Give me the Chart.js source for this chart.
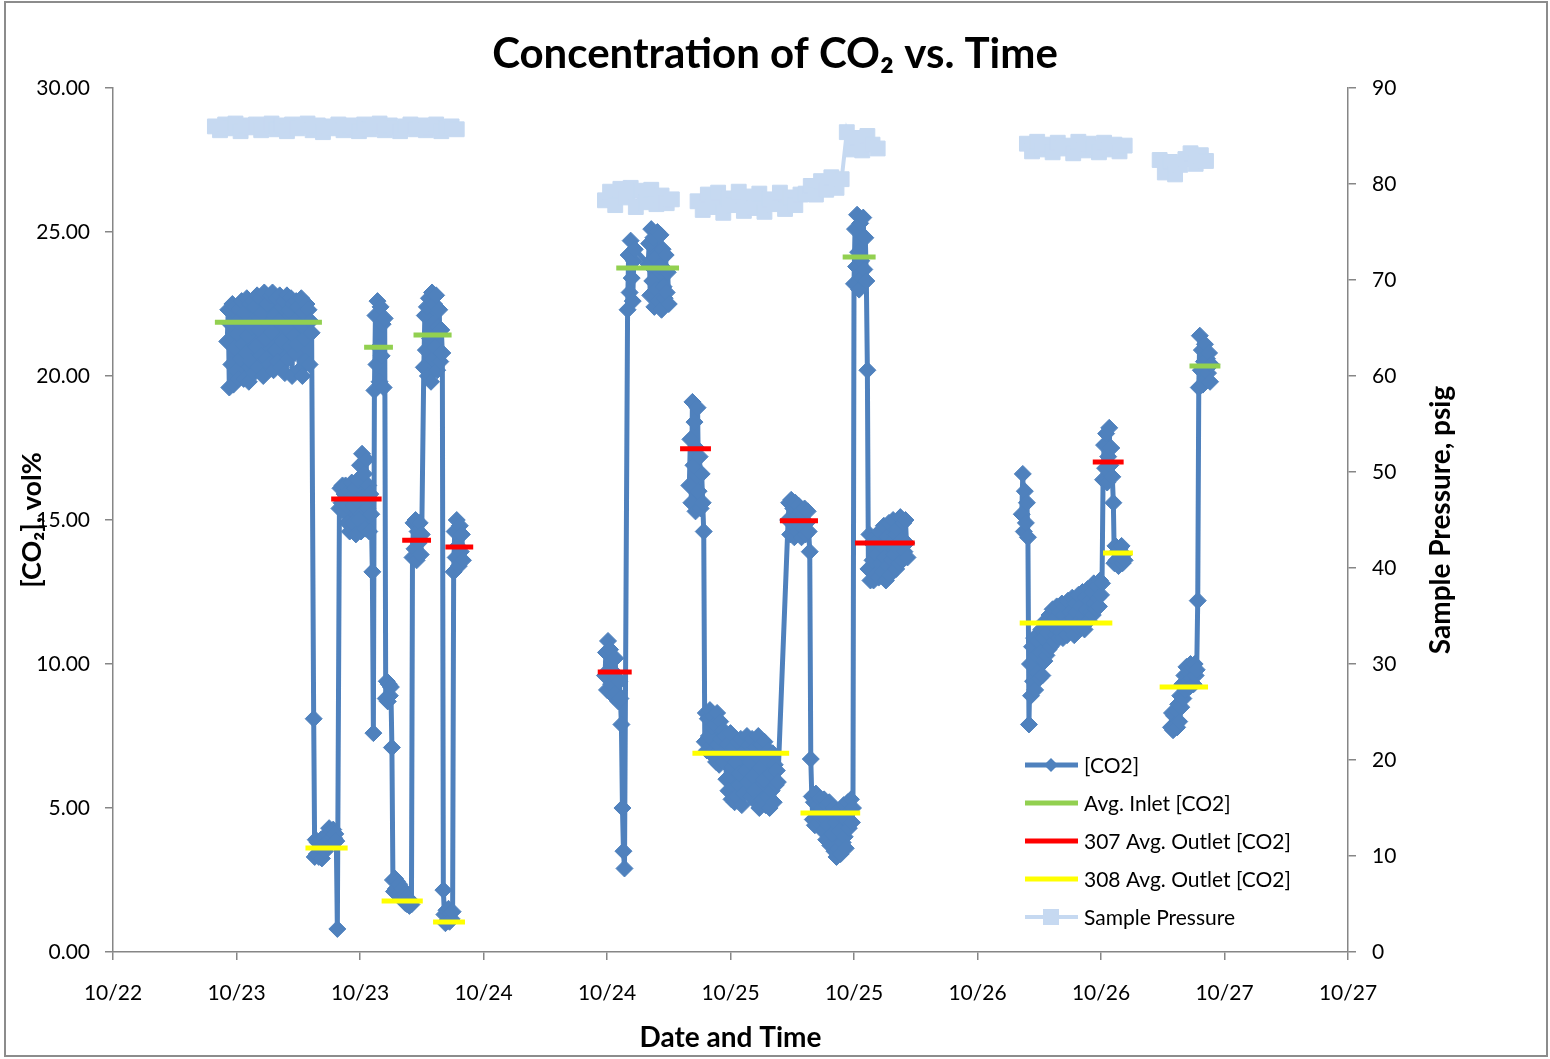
<!DOCTYPE html>
<html>
<head>
<meta charset="utf-8">
<title>Concentration of CO2 vs. Time</title>
<script src="https://cdn.jsdelivr.net/npm/chart.js@4.4.1/dist/chart.umd.min.js"></script>
<style>
  html, body { margin: 0; padding: 0; background: #fff; }
</style>
</head>
<body>
<canvas id="co2Chart" width="1550" height="1059"></canvas>
<script>
// x is hours from 10/22 12:00
var xTickLabels = ["10/22", "10/23", "10/23", "10/24", "10/24", "10/25", "10/25", "10/26", "10/26", "10/27", "10/27"];
var logGaps = [40, 55.5, 82, 100]; // logging stopped

// [CO2] readings, logged every 0.1 h
var co2Step = 0.1;
var co2RunStart = [11.1, 19.5, 22.0, 25.4, 26.5, 29.1, 30.2, 32.1, 33.1,
  47.8, 50.0, 52.0, 56.0, 57.5, 65.6, 67.9, 72.0, 73.4,
  88.3, 89.1, 96.2, 97.3, 102.8, 105.5];
var co2Runs = [
  [21.2, 22.3, 19.6, 21.8, 20.4, 22.5, 19.7, 21.0, 22.4, 20.2, 21.9, 19.9, 22.3,
   20.6, 22.6, 21.1, 19.9, 22.2, 20.8, 22.7, 21.4, 19.8, 22.5, 20.5, 21.7, 22.6, 20.1,
   22.4, 21.0, 22.8, 20.3, 21.6, 22.7, 20.7, 22.2, 20.0, 22.9, 21.3, 20.6, 22.5, 21.8,
   20.4, 22.8, 21.5, 22.9, 20.2, 22.1, 20.9, 22.7, 20.5, 21.9, 22.8, 20.3, 22.4, 21.2,
   22.6, 20.1, 21.7, 22.8, 20.6, 22.3, 21.0, 22.7, 20.0, 22.5, 21.4, 20.8, 22.6, 21.1,
   22.4, 20.2, 21.8, 22.7, 20.0, 22.2, 21.3, 20.5, 22.5, 21.6, 22.3, 20.4, 21.9, 21.5],
  [8.1, 3.3, 3.9, 3.4, 3.8, 3.3, 3.6, 3.9, 3.25, 3.7, 3.95, 3.5, 3.8, 4.1, 3.85, 4.3, 3.9, 4.2, 3.8, 4.25, 3.95, 4.1, 3.85, 0.8],
  [15.4, 16.1, 15.6, 16.2, 15.3, 15.9, 16.2, 15.5, 14.9, 16.0, 14.6, 15.8, 16.3, 14.9, 15.5, 16.1, 14.5,
   15.7, 16.4, 15.0, 16.9, 14.6, 17.3, 15.8, 16.6, 14.7, 17.1, 15.4, 16.2, 14.6, 15.9, 15.2, 13.2, 7.6],
  [19.5, 22.1, 20.4, 22.6, 21.0, 19.8, 22.4, 20.7, 21.8, 19.6, 22.0],
  [8.8, 9.4, 8.7, 9.3, 8.9, 9.2, 7.1, 2.5, 2.1, 2.55, 2.2, 2.45, 2.0, 2.35, 2.05, 1.95, 2.2, 1.8, 2.0, 1.7, 1.9, 1.65, 1.85, 1.6, 1.75, 1.65],
  [13.7, 14.9, 14.0, 15.0, 13.6, 14.6, 14.2, 14.9, 13.8, 14.5],
  [20.3, 22.1, 20.9, 22.4, 20.0, 22.7, 21.3, 19.8, 22.9, 20.6, 22.5, 21.0, 22.8, 20.2, 21.7, 22.3, 20.5, 21.6, 20.8],
  [2.15, 1.3, 1.0, 1.45, 1.1, 1.5, 1.05, 1.35, 1.15, 1.4],
  [13.2, 14.6, 13.7, 15.0, 14.1, 13.4, 14.8, 13.9, 14.5, 13.6],
  [9.6, 10.4, 9.1, 10.8, 9.8, 10.5, 9.3, 10.1, 8.9, 9.7, 10.2, 9.0, 9.5, 8.7, 9.4, 8.8, 7.9, 5.0, 3.5, 2.9],
  [22.3, 24.2, 22.9, 24.7, 23.4, 22.6, 24.0, 24.4],
  [23.9, 24.6, 22.8, 25.1, 23.3, 24.8, 22.4, 24.1, 23.0, 25.0, 22.6, 23.8, 24.9, 22.3, 24.4, 23.1, 22.7, 24.2, 22.9, 23.6, 22.5],
  [16.2, 17.8, 15.6, 19.1, 16.9, 18.4, 15.3, 17.5, 18.9, 16.0, 17.2, 15.4, 16.6, 15.6, 14.6],
  [7.3, 8.3, 7.0, 8.1, 7.5, 8.4, 6.9, 7.8, 8.2, 6.8, 7.9, 6.6, 8.3, 7.2, 6.5, 8.0, 7.4, 6.9, 7.7, 6.6,
   7.5, 6.0, 7.2, 5.6, 6.8, 7.6, 5.3, 6.4, 7.1, 5.2, 6.6, 5.4, 7.3, 5.8, 6.2, 7.4, 5.1, 6.9, 5.5, 7.0,
   6.3, 7.5, 5.9, 7.2, 6.6, 5.4, 7.4, 6.1, 5.6, 7.1, 5.2, 6.8, 7.5, 5.0, 6.4, 7.2, 5.3, 6.0, 7.3, 5.1,
   6.7, 5.4, 7.0, 5.0, 6.2, 5.6, 6.9, 5.2, 6.5, 5.8, 6.3, 5.9],
  [15.0, 15.6, 14.5, 15.7, 14.9, 15.4, 14.4, 15.6, 15.1, 14.6, 15.5, 14.8, 15.3, 14.4, 15.2, 14.7, 15.4, 14.5, 14.9, 15.3, 14.6, 13.9, 6.7],
  [5.4, 4.6, 5.2, 4.4, 5.5, 4.8, 5.1, 4.5, 5.3, 4.7, 5.0, 4.2, 5.3, 4.6, 3.9, 5.1, 4.4, 5.2, 3.7, 4.8,
   4.1, 5.0, 3.5, 4.5, 3.3, 4.9, 3.6, 4.2, 3.4, 4.7, 3.8, 5.1, 4.0, 3.6, 4.6, 5.2, 4.3, 4.9, 5.3, 4.5, 5.0],
  [23.2, 25.1, 23.8, 25.6, 24.3, 23.0, 25.3, 24.0, 23.4, 25.5, 23.7, 24.8, 23.3, 20.2],
  [13.3, 14.5, 12.9, 14.2, 13.6, 12.9, 14.4, 13.1, 13.8, 14.3, 13.0, 14.6, 13.5, 14.1, 13.2, 14.8, 13.7, 12.9, 14.4, 13.4,
   14.9, 13.1, 14.2, 13.6, 15.0, 13.8, 14.5, 13.3, 14.7, 14.0, 13.5, 15.1, 14.3, 13.6, 14.9, 13.9, 15.0, 14.2, 13.7],
  [15.2, 16.6, 14.6, 16.0, 14.9, 15.6, 14.4, 7.9],
  [10.0, 8.9, 10.6, 9.4, 10.9, 9.1, 10.3, 9.7, 10.8, 9.5, 10.4, 11.2, 9.6, 10.9, 10.1, 11.5, 10.3, 11.1, 10.5, 11.7,
   10.6, 11.4, 11.9, 10.8, 11.6, 11.0, 12.0, 11.2, 10.9, 11.8, 11.1, 12.1, 10.9, 11.7, 12.0, 11.3, 11.0, 12.2, 11.5, 11.8,
   11.2, 12.3, 11.6, 11.0, 12.1, 11.8, 11.3, 12.4, 11.5, 12.0, 11.4, 12.5, 11.7, 11.2, 12.3, 11.9, 12.6, 11.5, 12.2, 11.8,
   12.5, 11.7, 12.8, 12.1, 11.9, 12.7, 12.3, 12.0, 12.9, 12.4, 12.8],
  [16.4, 17.6, 16.8, 18.0, 16.3, 17.2, 18.2, 16.9, 17.5, 16.5, 15.6],
  [13.5, 14.1, 13.6, 13.9, 13.4, 14.0, 13.7, 14.1, 13.5, 13.8, 13.6],
  [7.8, 8.3, 7.7, 8.2, 7.9, 8.4, 7.8, 8.6, 8.0, 8.9, 8.5, 9.3, 8.8, 9.6, 9.1, 9.9, 9.4, 9.7, 9.2, 10.0,
   9.5, 9.9, 9.3, 10.0, 9.6, 9.8, 12.2],
  [19.6, 21.4, 20.2, 20.9, 19.7, 20.5, 21.1, 19.9, 20.6, 20.1, 20.8, 19.8, 20.4]
];

// sample pressure, psig, logged every 0.5 h
var pressStep = 0.5;
var pressRunStart = [9.9, 47.8, 56.8, 88.8, 101.7];
var pressRuns = [
  [86.0, 85.6, 86.2, 85.8, 86.3, 85.5, 86.1, 85.9, 86.2, 85.6, 86.0, 86.3, 85.7, 86.1, 85.5, 86.2, 85.8, 86.0, 86.3, 85.6,
   86.1, 85.4, 86.0, 85.8, 86.2, 85.6, 86.1, 85.9, 85.5, 86.2, 85.7, 86.0, 86.3, 85.6, 86.1, 85.8, 85.5, 86.0, 86.2, 85.7,
   86.1, 85.6, 85.9, 86.2, 85.5, 85.8, 86.0, 85.7],
  [78.3, 79.2, 77.8, 79.5, 78.6, 79.6, 77.6, 79.3, 78.1, 79.4, 77.9, 78.8, 78.0, 78.4],
  [78.2, 77.3, 78.9, 77.6, 79.1, 77.0, 78.5, 77.8, 79.2, 77.2, 78.7, 77.5, 79.0, 77.1, 78.4, 77.9, 79.1, 77.4, 78.6, 77.8, 78.9,
   79.0, 79.8, 78.9, 80.3, 79.4, 80.7, 79.6, 80.5,
   85.4, 83.6, 84.8, 83.5, 85.0, 84.1, 83.7],
  [84.2, 83.4, 84.4, 83.6, 84.1, 83.3, 84.3, 83.7, 84.0, 83.2, 84.4, 83.5, 84.2, 83.8, 83.3, 84.3, 83.6, 84.1, 83.4, 84.0],
  [82.5, 81.2, 82.3, 81.0, 82.0, 82.6, 83.2, 82.1, 83.0, 82.4]
];

// run averages
var inletAvg = [21.87, 21.0, 21.42, 23.75, 24.13, 20.35];
var inletFrom = [9.9, 24.4, 29.2, 48.9, 70.9, 104.6];
var inletTo = [20.3, 27.2, 32.9, 55.0, 74.1, 107.6];

var out307Avg = [15.73, 14.30, 14.06, 9.72, 17.47, 14.97, 14.20, 17.01];
var out307From = [21.2, 28.1, 32.3, 47.1, 55.1, 64.8, 72.1, 95.2];
var out307To = [26.1, 30.9, 35.0, 50.4, 58.1, 68.5, 77.9, 98.2];

var out308Avg = [3.61, 1.77, 1.04, 6.90, 4.83, 11.42, 13.85, 9.20];
var out308From = [18.7, 26.1, 31.1, 56.3, 66.8, 88.1, 96.2, 101.7];
var out308To = [22.8, 30.1, 34.2, 65.7, 72.6, 97.1, 99.1, 106.4];

function runsToPoints(starts, runs, step) {
  var pts = [];
  runs.forEach(function (vals, r) {
    vals.forEach(function (v, i) {
      pts.push({ x: starts[r] + i * step, y: v });
    });
  });
  logGaps.forEach(function (g) { pts.push({ x: g, y: null }); });
  pts.sort(function (a, b) { return a.x - b.x; });
  return pts;
}

function avgSegments(from, to, vals) {
  var pts = [];
  vals.forEach(function (v, i) {
    if (i > 0) pts.push({ x: from[i], y: null });
    pts.push({ x: from[i], y: v }, { x: to[i], y: v });
  });
  return pts;
}

var FONT = "Lato, 'Liberation Sans', sans-serif";
Chart.defaults.font.family = FONT;
Chart.defaults.color = "#000";

var axisGrey = "#868686";

// legend, right-hand axis title (reads upward) and outer frame
var chartDecor = {
  id: "chartDecor",
  afterDraw: function (chart) {
    var ctx = chart.ctx;
    ctx.save();
    ctx.strokeStyle = "#8c8c8c";
    ctx.lineWidth = 2;
    ctx.strokeRect(5, 2, 1542, 1054);

    ctx.save();
    ctx.translate(1441, 520);
    ctx.rotate(-Math.PI / 2);
    ctx.font = "bold 28px " + FONT;
    ctx.textAlign = "center";
    ctx.textBaseline = "middle";
    ctx.fillStyle = "#000";
    ctx.fillText("Sample Pressure, psig", 0, 0);
    ctx.restore();

    var order = [3, 0, 1, 2, 4];
    order.forEach(function (di, k) {
      var ds = chart.data.datasets[di];
      var y = 765 + k * 38;
      ctx.strokeStyle = ds.borderColor;
      ctx.lineWidth = ds.borderWidth;
      ctx.beginPath();
      ctx.moveTo(1025, y);
      ctx.lineTo(1078, y);
      ctx.stroke();
      ctx.fillStyle = ds.pointBackgroundColor || ds.borderColor;
      if (ds.pointStyle === "rectRot") {
        ctx.beginPath();
        ctx.moveTo(1051 - 7, y);
        ctx.lineTo(1051, y - 7);
        ctx.lineTo(1051 + 7, y);
        ctx.lineTo(1051, y + 7);
        ctx.closePath();
        ctx.fill();
      } else if (ds.pointStyle === "rect") {
        ctx.fillRect(1051 - 8, y - 8, 16, 16);
      }
      ctx.fillStyle = "#000";
      ctx.font = "21px " + FONT;
      ctx.textAlign = "left";
      ctx.textBaseline = "middle";
      ctx.fillText(ds.label, 1084, y + 1);
    });
    ctx.restore();
  }
};

new Chart("co2Chart", {
  type: "line",
  data: {
    datasets: [
      {
        label: "Avg. Inlet [CO2]",
        data: avgSegments(inletFrom, inletTo, inletAvg),
        borderColor: "#92D050",
        borderWidth: 5,
        pointRadius: 0,
        yAxisID: "y"
      },
      {
        label: "307 Avg. Outlet [CO2]",
        data: avgSegments(out307From, out307To, out307Avg),
        borderColor: "#FF0000",
        borderWidth: 5,
        pointRadius: 0,
        yAxisID: "y"
      },
      {
        label: "308 Avg. Outlet [CO2]",
        data: avgSegments(out308From, out308To, out308Avg),
        borderColor: "#FFFF00",
        borderWidth: 5,
        pointRadius: 0,
        yAxisID: "y"
      },
      {
        label: "[CO2]",
        data: runsToPoints(co2RunStart, co2Runs, co2Step),
        borderColor: "#4F81BD",
        backgroundColor: "#4F81BD",
        pointBackgroundColor: "#4F81BD",
        borderWidth: 5,
        borderJoinStyle: "round",
        pointStyle: "rectRot",
        pointRadius: 8.5,
        pointBorderWidth: 1,
        yAxisID: "y"
      },
      {
        label: "Sample Pressure",
        data: runsToPoints(pressRunStart, pressRuns, pressStep),
        borderColor: "#C6D9F1",
        backgroundColor: "#C6D9F1",
        pointBackgroundColor: "#C6D9F1",
        borderWidth: 4,
        pointStyle: "rect",
        pointRadius: 10.5,
        pointBorderWidth: 1,
        yAxisID: "y1"
      }
    ]
  },
  options: {
    responsive: false,
    animation: false,
    devicePixelRatio: 1,
    spanGaps: false,
    layout: { padding: 0 },
    plugins: {
      legend: { display: false },
      tooltip: { enabled: false },
      title: {
        display: true,
        text: "Concentration of CO\u2082 vs. Time",
        color: "#000",
        font: { size: 42, weight: "bold" },
        padding: { top: 29, bottom: 8.6 }
      }
    },
    scales: {
      x: {
        type: "linear",
        min: 0,
        max: 120,
        afterFit: function (s) { s.height = 107; },
        ticks: {
          stepSize: 12,
          padding: 21,
          maxRotation: 0,
          autoSkip: false,
          font: { size: 21 },
          callback: function (v, i) { return xTickLabels[i]; }
        },
        grid: { drawOnChartArea: false, tickLength: 8, color: axisGrey, lineWidth: 1.5 },
        border: { color: axisGrey, width: 1.5 },
        title: { display: true, text: "Date and Time", font: { size: 28, weight: "bold" }, padding: { top: 0, bottom: 4 } }
      },
      y: {
        position: "left",
        min: 0,
        max: 30,
        afterFit: function (s) { s.width = 113; },
        ticks: {
          stepSize: 5,
          padding: 15,
          font: { size: 21 },
          callback: function (v) { return v.toFixed(2); }
        },
        grid: { drawOnChartArea: false, tickLength: 8, color: axisGrey, lineWidth: 1.5 },
        border: { color: axisGrey, width: 1.5 },
        title: { display: true, text: "[CO\u2082], vol%", font: { size: 27, weight: "bold" }, padding: { top: 16, bottom: 0 } }
      },
      y1: {
        position: "right",
        min: 0,
        max: 90,
        afterFit: function (s) { s.width = 202; },
        ticks: { stepSize: 10, padding: 16, font: { size: 21 } },
        grid: { drawOnChartArea: false, tickLength: 8, color: axisGrey, lineWidth: 1.5 },
        border: { color: axisGrey, width: 1.5 }
      }
    }
  },
  plugins: [chartDecor]
});
</script>
</body>
</html>
